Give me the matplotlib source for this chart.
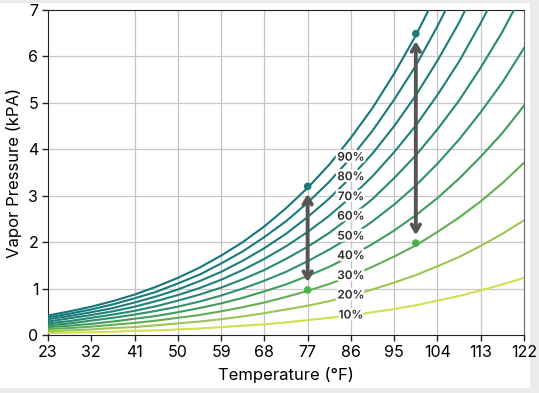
import matplotlib.pyplot as plt
import matplotlib.patheffects as pe
from matplotlib.patches import Rectangle

plt.rcParams['font.family'] = ['Inter', 'DejaVu Sans']

# temperature grid (deg F) and vapor pressure (kPa)
temps = [23, 27.5, 32, 36.5, 41, 45.5, 50, 54.5, 59, 63.5, 68, 72.5,
         77, 81.5, 86, 90.5, 95, 99.5, 104, 108.5, 113, 117.5, 122]
xticks = [23, 32, 41, 50, 59, 68, 77, 86, 95, 104, 113, 122]
rh_labels = ['10%', '20%', '30%', '40%', '50%', '60%', '70%', '80%', '90%', '100%']
vp_10 = [0.04, 0.05, 0.06, 0.07, 0.09, 0.10, 0.12, 0.14, 0.17, 0.20, 0.23, 0.27,
         0.32, 0.37, 0.42, 0.49, 0.56, 0.64, 0.74, 0.84, 0.96, 1.09, 1.23]
vp_20 = [0.08, 0.10, 0.12, 0.15, 0.17, 0.21, 0.25, 0.29, 0.34, 0.40, 0.47, 0.55,
         0.63, 0.73, 0.85, 0.98, 1.13, 1.29, 1.48, 1.68, 1.92, 2.18, 2.47]
vp_30 = [0.13, 0.15, 0.18, 0.22, 0.26, 0.31, 0.37, 0.43, 0.51, 0.60, 0.70, 0.82,
         0.95, 1.10, 1.27, 1.47, 1.69, 1.93, 2.22, 2.53, 2.88, 3.27, 3.71]
vp_40 = [0.17, 0.20, 0.24, 0.29, 0.35, 0.41, 0.49, 0.58, 0.68, 0.80, 0.94, 1.09,
         1.27, 1.47, 1.70, 1.96, 2.25, 2.58, 2.95, 3.37, 3.84, 4.35, 4.94]
vp_50 = [0.21, 0.25, 0.31, 0.37, 0.44, 0.52, 0.61, 0.72, 0.85, 1.00, 1.17, 1.36,
         1.59, 1.84, 2.12, 2.45, 2.81, 3.22, 3.69, 4.21, 4.80, 5.44, 6.18]
vp_60 = [0.25, 0.30, 0.37, 0.44, 0.52, 0.62, 0.74, 0.87, 1.02, 1.20, 1.40, 1.64,
         1.90, 2.20, 2.55, 2.93, 3.38, 3.87, 4.43, 5.05, 5.76, 6.53, 7.41]
vp_70 = [0.29, 0.36, 0.43, 0.51, 0.61, 0.73, 0.86, 1.01, 1.19, 1.40, 1.64, 1.91,
         2.22, 2.57, 2.97, 3.42, 3.94, 4.51, 5.17, 5.89, 6.72, 7.62, 8.65]
vp_80 = [0.34, 0.41, 0.49, 0.58, 0.70, 0.83, 0.98, 1.16, 1.36, 1.60, 1.87, 2.18,
         2.54, 2.94, 3.40, 3.91, 4.50, 5.16, 5.91, 6.73, 7.68, 8.71, 9.88]
vp_90 = [0.38, 0.46, 0.55, 0.66, 0.79, 0.93, 1.11, 1.30, 1.54, 1.80, 2.11, 2.45,
         2.85, 3.30, 3.82, 4.40, 5.07, 5.80, 6.65, 7.58, 8.63, 9.80, 11.12]
vp_100 = [0.42, 0.51, 0.61, 0.73, 0.87, 1.04, 1.23, 1.45, 1.71, 2.00, 2.34, 2.73,
          3.17, 3.67, 4.25, 4.89, 5.63, 6.45, 7.38, 8.42, 9.59, 10.89, 12.35]
series = [vp_10, vp_20, vp_30, vp_40, vp_50, vp_60, vp_70, vp_80, vp_90, vp_100]

colors = ['#d2e04c', '#9cc552', '#62ae52', '#3f9d5e', '#2f916a', '#258872',
          '#1f8276', '#1b7d78', '#197a79', '#177679']

# highlighted points: temp, pressure at low RH, pressure at 100% RH
mark_temps = [77, 99.5]
mark_low = [0.97, 1.98]
mark_high = [3.20, 6.49]

fig = plt.figure(figsize=(5.39, 3.93), dpi=100, facecolor='#ebebeb')
fig.patches.append(Rectangle((0, 5 / 393), 530 / 539, 385 / 393,
                             transform=fig.transFigure, facecolor='white',
                             edgecolor='none', zorder=-10))
ax = fig.add_axes([48 / 539, 1 - 335 / 393, 476 / 539, 325 / 393])

for vals, c in zip(series, colors):
    ax.plot(temps, vals, color=c, lw=1.5, zorder=3)

# RH labels sit on the curves at 86 F
i86 = temps.index(86)
for vals, lab in zip(series[:9], rh_labels[:9]):
    ax.text(86, vals[i86], lab, ha='center', va='center', fontsize=8.5,
            color='#2b2b2b', fontweight='semibold', zorder=5,
            path_effects=[pe.withStroke(linewidth=3.5, foreground='white')])

for t, lo, hi in zip(mark_temps, mark_low, mark_high):
    ax.annotate('', xy=(t, hi - 0.16), xytext=(t, lo + 0.17),
                arrowprops=dict(arrowstyle='<->,head_length=0.5,head_width=0.3',
                                color='#555555', lw=2.8, shrinkA=0, shrinkB=0),
                zorder=6)
    ax.scatter([t], [hi], s=30, color='#1e7a7c', zorder=7, edgecolors='none')
    ax.scatter([t], [lo], s=30, color='#4caf50', zorder=7, edgecolors='none')

ax.set_xlim(23, 122)
ax.set_ylim(0, 7)
ax.set_xticks(xticks)
ax.set_yticks(range(8))
ax.tick_params(labelsize=11.5, length=4, width=1, color='#222222', pad=3)

for t in xticks[2:-1]:
    ax.axvline(t, color='#c4c4c4', lw=0.9, zorder=1)
for v in range(1, 7):
    ax.axhline(v, color='#c8c8c8', lw=0.9, zorder=1)

for side in ['left', 'bottom', 'top']:
    ax.spines[side].set_color('#222222')
ax.spines['right'].set_color('#666666')

ax.set_xlabel('Temperature (°F)', fontsize=12, labelpad=5)
ax.set_ylabel('Vapor Pressure (kPA)', fontsize=12, labelpad=4)

fig.savefig('out.png', dpi=100, facecolor=fig.get_facecolor())
